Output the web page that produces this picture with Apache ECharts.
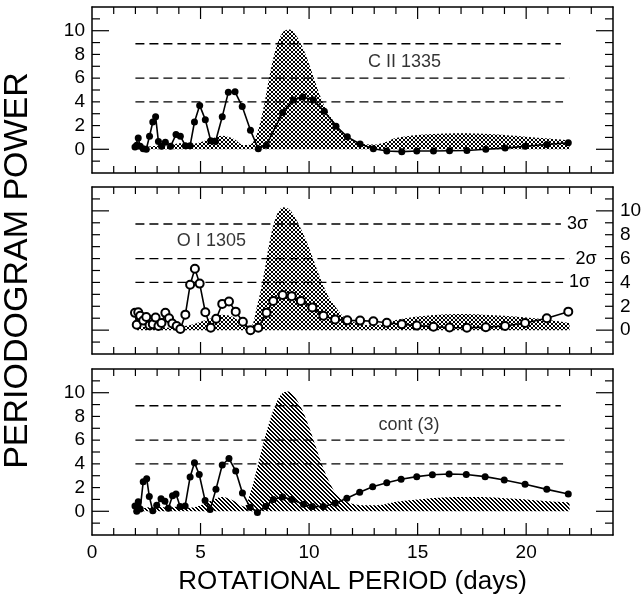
<!DOCTYPE html>
<html>
<head>
<meta charset="utf-8">
<script src="https://cdn.jsdelivr.net/npm/echarts@6/dist/echarts.min.js"></script>
<style>
  html, body { margin: 0; padding: 0; background: #fff; }
  #main { width: 643px; height: 601px; }
</style>
</head>
<body>
<div id="main"></div>
<script>
// shaded area (same period grid for all three panels)
const shadeDays = [2, 2.5, 3, 3.5, 4, 4.5, 5, 5.5, 6, 6.5, 7, 7.3, 7.6, 7.9, 8.2, 8.5, 8.8, 9.1, 9.4, 9.7,
  10.0, 10.3, 10.6, 10.9, 11.2, 11.5, 11.8, 12.1, 12.5, 13, 13.5, 14, 15, 16, 17, 18, 19, 20, 21, 22];
const ciiShade = [0.1, 0.2, 0.3, 0.2, 0.5, 0.45, 0.6, 0.9, 1.15, 0.9, 0.35, 0.4, 1.3, 3.5, 6.4, 8.7, 9.9, 10.1, 9.6, 8.6,
  7.2, 5.6, 4.1, 3.0, 2.2, 1.5, 1.0, 0.7, 0.45, 0.4, 0.6, 0.95, 1.2, 1.3, 1.35, 1.3, 1.2, 1.05, 0.9, 0.75];
const oiShade = [0.2, 0.3, 0.3, 0.2, 0.3, 0.4, 0.7, 1.0, 1.3, 1.1, 0.4, 0.3, 2.0, 4.5, 7.6, 9.6, 10.3, 10.1, 9.3, 8.2,
  6.9, 5.4, 4.0, 2.8, 2.0, 1.3, 0.9, 0.65, 0.45, 0.4, 0.55, 0.85, 1.15, 1.3, 1.35, 1.3, 1.2, 1.05, 0.85, 0.6];
const contShade = [0.2, 0.3, 0.4, 0.3, 0.4, 0.3, 0.5, 0.9, 1.2, 0.9, 0.4, 1.6, 3.6, 5.8, 7.7, 9.2, 10.0, 10.1, 9.5, 8.5,
  7.1, 5.5, 3.9, 2.6, 1.6, 1.1, 0.75, 0.6, 0.5, 0.5, 0.6, 0.8, 1.0, 1.15, 1.2, 1.2, 1.1, 1.0, 0.85, 0.75];

// C II 1335
const ciiDays = [1.98, 2.06, 2.13, 2.22, 2.36, 2.5, 2.65, 2.8, 2.93, 3.06, 3.2, 3.38, 3.62, 3.87, 4.07, 4.3, 4.52,
  4.72, 4.96, 5.22, 5.47, 5.69, 6.0, 6.28, 6.59, 6.92, 7.3, 7.66, 8.03, 8.78, 9.28, 9.71, 10.2, 10.7, 11.24,
  11.76, 12.35, 12.96, 13.58, 14.27, 14.96, 15.73, 16.47, 17.27, 18.14, 19.03, 19.95, 20.95, 21.94];
const ciiPower = [0.2, 0.35, 0.95, 0.25, 0.05, 0.0, 1.1, 2.3, 2.75, 0.65, 0.25, 0.6, 0.25, 1.25, 1.1, 0.3, 0.3,
  2.3, 3.7, 2.5, 0.72, 0.65, 2.75, 4.8, 4.85, 3.6, 1.6, 0.05, 0.35, 3.1, 4.15, 4.4, 4.15, 3.2, 1.95,
  1.05, 0.45, 0.05, -0.15, -0.2, -0.15, -0.15, -0.12, -0.1, 0.0, 0.1, 0.25, 0.4, 0.55];

// O I 1305
const oiDays = [1.98, 2.06, 2.13, 2.22, 2.36, 2.5, 2.65, 2.8, 2.93, 3.06, 3.2, 3.38, 3.55, 3.7, 3.9, 4.07, 4.3,
  4.52, 4.74, 4.96, 5.22, 5.47, 5.72, 6.0, 6.31, 6.62, 6.95, 7.3, 7.66, 8.04, 8.35, 8.78, 9.2, 9.62, 10.15,
  10.66, 11.2, 11.76, 12.35, 12.96, 13.58, 14.27, 14.96, 15.73, 16.47, 17.27, 18.14, 19.03, 19.95, 20.95, 21.94];
const oiPower = [1.45, 0.45, 1.5, 1.2, 0.8, 1.1, 0.4, 0.5, 1.05, 0.35, 0.6, 1.45, 1.0, 0.55, 0.35, 0.1, 1.3,
  3.8, 5.15, 3.9, 1.5, 0.2, 0.95, 2.2, 2.4, 1.55, 0.7, 0.0, 0.2, 1.45, 2.45, 2.95, 2.85, 2.45, 1.9,
  1.2, 0.9, 0.82, 0.8, 0.75, 0.62, 0.5, 0.38, 0.28, 0.22, 0.2, 0.25, 0.35, 0.6, 1.0, 1.55];

// cont (3)
const contDays = [1.98, 2.06, 2.13, 2.22, 2.36, 2.52, 2.64, 2.8, 2.98, 3.18, 3.36, 3.52, 3.71, 3.87, 4.06, 4.29,
  4.52, 4.72, 4.94, 5.21, 5.44, 5.71, 6.0, 6.31, 6.62, 6.93, 7.28, 7.62, 8.0, 8.35, 8.78, 9.2, 9.74, 10.15,
  10.66, 11.2, 11.74, 12.33, 12.93, 13.58, 14.24, 14.96, 15.68, 16.45, 17.24, 18.11, 18.99, 19.95, 20.95, 21.94];
const contPower = [0.45, 0.0, 0.8, 0.2, 2.5, 2.75, 1.25, 0.05, 0.5, 1.05, 0.85, 0.25, 1.3, 1.45, 0.4, 0.45,
  2.9, 4.1, 3.1, 0.9, 0.15, 1.85, 3.9, 4.45, 3.4, 1.55, 0.35, -0.1, 0.4, 1.0, 1.2, 1.0, 0.6, 0.4,
  0.4, 0.67, 1.1, 1.6, 2.07, 2.4, 2.7, 2.92, 3.08, 3.15, 3.1, 2.92, 2.64, 2.28, 1.85, 1.46];

const sigmaLevels = [4.0, 6.0, 8.9];
const sigmaNames = ['1σ', '2σ', '3σ'];
const sigmaStart = [2, 2, 2];
const sigmaEnd = [21.7, 22, 21.6];
const yLabels = [0, 2, 4, 6, 8, 10];
const xLabels = [0, 5, 10, 15, 20];
// tick marks inside each frame
const xTickValues = [1, 2, 3, 4, 5, 6, 7, 8, 9, 10, 11, 12, 13, 14, 15, 16, 17, 18, 19, 20, 21, 22, 23];
const xMajorTicks = [5, 10, 15, 20];
const yTickValues = [-1, 0, 1, 2, 3, 4, 5, 6, 7, 8, 9, 10, 11];
const yLongTicks = [0, 10];
const panelNames = ['C II 1335', 'O I 1305', 'cont (3)'];
const panelNamePos = [[14.4, 7.4], [5.5, 7.45], [14.6, 7.3]];

const FONT = 'Liberation Sans';
const X_MIN = 0, X_MAX = 24, Y_MIN = -2, Y_MAX = 12;

function makePattern(kind) {
  const c = document.createElement('canvas');
  c.width = 4; c.height = 4;
  const ctx = c.getContext('2d');
  ctx.fillStyle = '#000';
  for (let i = 0; i < 4; i++) {
    if (kind === 'cross') {
      ctx.fillRect(i, i, 1, 1);
      ctx.fillRect(3 - i, i, 1, 1);
    } else {
      ctx.fillRect(i, i, 1, 1);
      ctx.fillRect((i + 1) % 4, i, 1, 1);
    }
  }
  return c;
}

const pair = (xs, ys) => xs.map((x, i) => [x, ys[i]]);

// tick list: [value, axis ('x'|'y'), side, length]
const tickItems = [];
xTickValues.forEach(v => {
  const len = xMajorTicks.includes(v) ? 12 : 7;
  tickItems.push([v, 'x', 'bottom', len], [v, 'x', 'top', len]);
});
yTickValues.forEach(v => {
  const len = yLongTicks.includes(v) ? 17 : 8;
  tickItems.push([v, 'y', 'left', len], [v, 'y', 'right', len]);
});

function renderTick(params, api) {
  const t = tickItems[params.dataIndex];
  let p, dx = 0, dy = 0;
  if (t[1] === 'x') {
    p = api.coord([t[0], t[2] === 'bottom' ? Y_MIN : Y_MAX]);
    dy = t[2] === 'bottom' ? -t[3] : t[3];
  } else {
    p = api.coord([t[2] === 'left' ? X_MIN : X_MAX, t[0]]);
    dx = t[2] === 'left' ? t[3] : -t[3];
  }
  return {
    type: 'line',
    shape: { x1: p[0], y1: p[1], x2: p[0] + dx, y2: p[1] + dy },
    style: { stroke: '#000', lineWidth: 1.2 }
  };
}

const chart = echarts.init(document.getElementById('main'));

const grids = [
  { left: 92, right: 30, top: 7, height: 166, outerBoundsMode: 'none', containLabel: false },
  { left: 92, right: 30, top: 187, height: 167, outerBoundsMode: 'none', containLabel: false },
  { left: 92, right: 30, top: 369, height: 166, outerBoundsMode: 'none', containLabel: false }
];

const black = { color: '#000', width: 1.5 };
let xAxis = [], yAxis = [];
grids.forEach((g, gi) => {
  const xBase = {
    gridIndex: gi, type: 'value', min: X_MIN, max: X_MAX, interval: 5,
    axisLine: { show: true, onZero: false, lineStyle: black },
    axisTick: { show: false },
    splitLine: { show: false }
  };
  xAxis.push(Object.assign({}, xBase, {
    position: 'bottom',
    axisLabel: gi === 2
      ? { show: true, customValues: xLabels, color: '#000', fontSize: 19, fontFamily: FONT, margin: 8 }
      : { show: false },
    name: gi === 2 ? 'ROTATIONAL PERIOD (days)' : '',
    nameLocation: 'middle', nameGap: 34,
    nameTextStyle: { color: '#000', fontSize: 26, fontFamily: FONT }
  }));
  xAxis.push(Object.assign({}, xBase, { position: 'top', axisLabel: { show: false } }));

  const yBase = {
    gridIndex: gi, type: 'value', min: Y_MIN, max: Y_MAX, interval: 2,
    axisLine: { show: true, onZero: false, lineStyle: black },
    axisTick: { show: false },
    splitLine: { show: false }
  };
  const lbl = { show: true, customValues: yLabels, color: '#000', fontSize: 19, fontFamily: FONT, margin: 7 };
  yAxis.push(Object.assign({}, yBase, {
    position: 'left',
    axisLabel: gi !== 1 ? lbl : { show: false },
    name: gi === 1 ? 'PERIODOGRAM POWER' : '',
    nameLocation: 'middle', nameGap: 57, nameRotate: 90,
    nameTextStyle: { color: '#000', fontSize: 34, fontFamily: FONT }
  }));
  yAxis.push(Object.assign({}, yBase, {
    position: 'right',
    axisLabel: gi === 1 ? lbl : { show: false }
  }));
});

const panels = [
  { days: ciiDays, power: ciiPower, shade: ciiShade, pattern: 'cross', open: false },
  { days: oiDays, power: oiPower, shade: oiShade, pattern: 'cross', open: true },
  { days: contDays, power: contPower, shade: contShade, pattern: 'diag', open: false }
];

const series = [];
panels.forEach((p, gi) => {
  const ax = { xAxisIndex: gi * 2, yAxisIndex: gi * 2 };
  // shaded region
  series.push(Object.assign({
    type: 'line', data: pair(shadeDays, p.shade), smooth: 0.35, symbol: 'none', silent: true,
    lineStyle: { width: 0 },
    areaStyle: { color: { image: makePattern(p.pattern), repeat: 'repeat' }, opacity: 1 },
    z: 1
  }, ax));
  // significance levels
  sigmaLevels.forEach((lv, k) => {
    series.push(Object.assign({
      type: 'line', data: [[sigmaStart[k], lv], [sigmaEnd[k], lv]], symbol: 'none', silent: true,
      lineStyle: { color: '#000', width: 1.3, type: [9, 5] },
      endLabel: gi === 1
        ? { show: true, formatter: sigmaNames[k], color: '#000', fontSize: 18, fontFamily: FONT, distance: 6 }
        : { show: false },
      z: 2
    }, ax));
  });
  // periodogram
  series.push(Object.assign({
    type: 'line', data: pair(p.days, p.power),
    symbol: p.open ? 'emptyCircle' : 'circle',
    symbolSize: p.open ? 8 : 7,
    showAllSymbol: true,
    itemStyle: p.open ? { color: '#000', borderWidth: 1.3 } : { color: '#000' },
    lineStyle: { color: '#000', width: 1.6 },
    z: 3
  }, ax));
  // panel name
  series.push(Object.assign({
    type: 'scatter', data: [panelNamePos[gi]], symbolSize: 1, silent: true,
    itemStyle: { color: 'rgba(0,0,0,0)' },
    label: { show: true, position: 'inside', formatter: panelNames[gi], color: '#000', fontSize: 18, fontFamily: FONT },
    z: 4
  }, ax));
  // frame ticks
  series.push(Object.assign({
    type: 'custom', data: tickItems.map((t, i) => i), renderItem: renderTick, silent: true, clip: false, z: 5
  }, ax));
});

chart.setOption({
  animation: false,
  backgroundColor: '#fff',
  grid: grids,
  xAxis: xAxis,
  yAxis: yAxis,
  series: series
});
</script>
</body>
</html>
